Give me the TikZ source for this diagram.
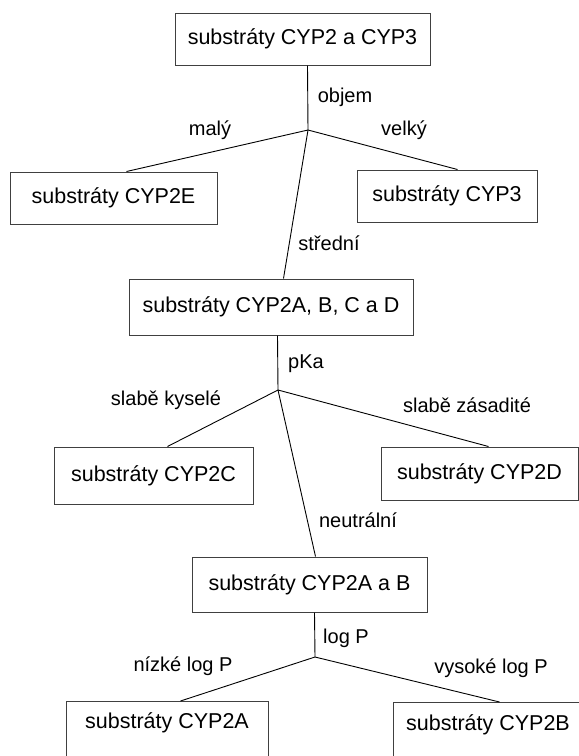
\documentclass[tikz,border=0pt]{standalone}
\usepackage{fontspec}
\setmainfont{Liberation Sans}
\usetikzlibrary{calc}
\tikzset{
  box/.style={draw=black!75, line width=1pt, inner sep=0pt, align=center,
    font=\fontsize{21.5pt}{25pt}\selectfont},
  lbl/.style={inner sep=0pt, font=\fontsize{20pt}{24pt}\selectfont},
  conn/.style={draw=black, line width=0.9pt}
}
\begin{document}
\begin{tikzpicture}[x=1pt,y=-1pt]
\clip (0,0) rectangle (579,756);
\fill[white] (0,0) rectangle (579,756);
% boxes
\node[box, minimum width=255pt, minimum height=52pt] (b1) at (302.5,39) {substráty CYP2 a CYP3};
\node[box, minimum width=207pt, minimum height=52pt] (b2) at (113.5,198) {substráty CYP2E};
\node[box, minimum width=180pt, minimum height=52pt] (b3) at (447,196) {substráty CYP3};
\node[box, minimum width=284pt, minimum height=56pt] (b4) at (271,307) {substráty CYP2A, B, C a D};
\node[box, minimum width=199pt, minimum height=57pt] (b5) at (153.5,475.5) {substráty CYP2C};
\node[box, minimum width=197pt, minimum height=53pt] (b6) at (479.5,473.5) {substráty CYP2D};
\node[box, minimum width=235pt, minimum height=55pt] (b7) at (309.5,584.5) {substráty CYP2A a B};
\node[box, minimum width=202pt, text height=27pt, text depth=40pt, anchor=north] (b8) at (167,701) {substráty CYP2A};
\node[box, minimum width=190pt, text height=28pt, text depth=40pt, anchor=north] (b9) at (488,702) {substráty CYP2B};
% branch points
\coordinate (p1) at (308,130);
\coordinate (p2) at (278,390);
\coordinate (p3) at (315,657);
% connectors
\draw[conn] ([xshift=133pt]b1.south west) -- (p1);
\draw[conn] (p1) -- ([xshift=117pt]b2.north west);
\draw[conn] (p1) -- ([xshift=101pt]b3.north west);
\draw[conn] (p1) -- ([xshift=155pt]b4.north west);
\draw[conn] ([xshift=149pt]b4.south west) -- (p2);
\draw[conn] (p2) -- ([xshift=114pt]b5.north west);
\draw[conn] (p2) -- ([xshift=108pt]b6.north west);
\draw[conn] (p2) -- ([xshift=124pt]b7.north west);
\draw[conn] ([xshift=123pt]b7.south west) -- (p3);
\draw[conn] (p3) -- ([xshift=115pt]b8.north west);
\draw[conn] (p3) -- ([xshift=107pt]b9.north west);
% labels
\node[lbl] (l1) at (345,97) {objem};
\node[lbl] (l2) at (210,130) {malý};
\node[lbl] (l3) at (404,130) {velký};
\node[lbl] (l4) at (329,243) {střední};
\node[lbl] (l5) at (306,364) {pKa};
\node[lbl] (l6) at (166,400) {slabě kyselé};
\node[lbl] (l7) at (467,405) {slabě zásadité};
\node[lbl] (l8) at (358,520) {neutrální};
\node[lbl] (l9) at (346,638) {log P};
\node[lbl] (l10) at (183,666) {nízké log P};
\node[lbl] (l11) at (491,668) {vysoké log P};
\end{tikzpicture}
\end{document}
